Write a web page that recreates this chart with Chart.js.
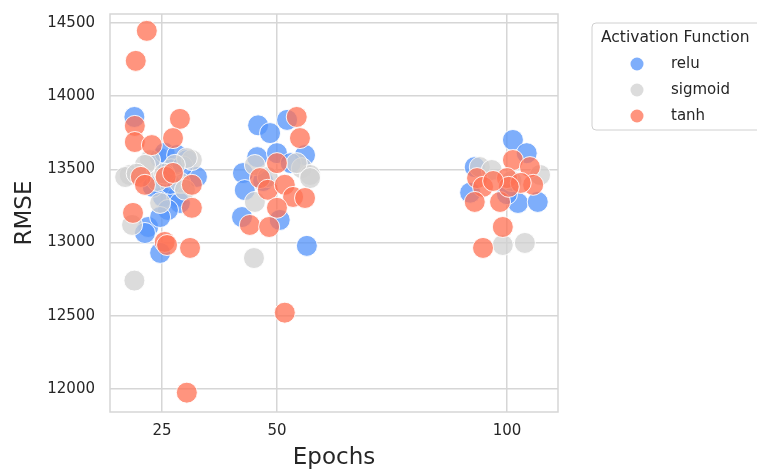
<!DOCTYPE html>
<html><head><meta charset="utf-8">
<script src="https://cdn.jsdelivr.net/npm/chart.js@4/dist/chart.umd.min.js"></script>
<style>html,body{margin:0;padding:0;background:#fff;} #wrap{width:757px;height:470px;}</style>
</head><body><div id="wrap"><canvas id="c" width="757" height="470"></canvas></div>
<script>
const seriesNames = ['relu', 'sigmoid', 'tanh'];
const legendTitle = 'Activation Function';
const xTitle = 'Epochs';
const yTitle = 'RMSE';
const xTicks = [25, 50, 100];
const yTicks = [12000, 12500, 13000, 13500, 14000, 14500];

// jittered epoch positions and RMSE values
const reluEpochs = [19.0,24.6,25.6,28.3,30.4,32.6,25.2,28.3,28.9,26.3,22.0,21.3,24.6,24.6,27.0,29.5,23.0,26.8, 45.9,48.5,52.2,56.1,45.7,50.0,42.6,43.0,42.4,50.6,56.5,53.0,47.0, 101.3,104.3,93.0,102.4,106.7,92.0,100.0];
const reluRMSE   = [13857,13577,13612,13597,13563,13448,13311,13311,13270,13222,13106,13065,12929,13174,13500,13520,13380,13400, 13800,13747,13837,13597,13583,13610,13474,13358,13174,13154,12977,13542,13420, 13700,13610,13515,13270,13277,13340,13330];

const sigmoidEpochs = [18.0,17.0,22.4,31.5,30.4,24.6,18.5,21.3,19.0,29.0,24.0,19.5,27.8,30.0,25.5, 45.2,55.4,57.2,45.2,54.3,48.0,45.0,57.2, 107.2,94.1,99.1,103.9,96.7,101.0];
const sigmoidRMSE   = [13461,13447,13563,13563,13577,13270,13120,13530,12740,13407,13420,13470,13530,13360,13470, 13529,13508,13461,13277,13542,13447,12894,13440, 13461,13515,12983,12997,13495,13420];

const tanhEpochs = [21.7,19.3,19.1,28.9,19.1,22.8,27.4,20.4,21.3,25.8,27.4,31.5,18.7,31.5,25.6,26.1,31.1,30.4, 54.3,55.0,50.0,46.3,48.0,51.7,53.5,56.1,50.0,44.1,48.3,51.7, 101.3,105.0,93.5,100.0,94.8,105.7,103.0,98.5,93.0,100.4,99.1,94.8,97.0];
const tanhRMSE   = [14445,14240,13796,13844,13686,13665,13713,13448,13394,13448,13475,13394,13202,13237,13004,12983,12963,11975, 13857,13713,13542,13440,13360,13394,13311,13304,13237,13120,13106,12521, 13563,13515,13440,13440,13380,13394,13407,13277,13277,13380,13106,12963,13420];

const colors = ['rgba(85,148,250,0.76)', 'rgba(208,208,208,0.75)', 'rgba(255,115,85,0.76)'];
const FONT = "'DejaVu Sans', sans-serif";
const TXT = '#262626';
const GRID = '#d6d6d6';

function pts(xs, ys) { return xs.map((x, i) => ({x: x, y: ys[i]})); }
const allData = [pts(reluEpochs, reluRMSE), pts(sigmoidEpochs, sigmoidRMSE), pts(tanhEpochs, tanhRMSE)];

const datasets = seriesNames.map((n, i) => ({
  label: n,
  data: allData[i],
  backgroundColor: colors[i],
  borderColor: 'rgba(255,255,255,0.9)',
  borderWidth: 1,
  pointRadius: 10.5,
  pointHoverRadius: 10.5,
  order: 2 - i
}));

const frame = {
  id: 'frame',
  beforeDatasetsDraw(chart) {
    const a = chart.chartArea, ctx = chart.ctx;
    ctx.save();
    ctx.strokeStyle = GRID; ctx.lineWidth = 1.5;
    ctx.strokeRect(a.left, a.top, a.right - a.left, a.bottom - a.top);
    ctx.restore();
  },
  afterDraw(chart) {
    const ctx = chart.ctx;
    ctx.save();
    const bx = 592, by = 23, bw = 200, bh = 107, r = 4;
    ctx.beginPath();
    ctx.moveTo(bx + r, by); ctx.lineTo(bx + bw, by); ctx.lineTo(bx + bw, by + bh);
    ctx.lineTo(bx + r, by + bh); ctx.arcTo(bx, by + bh, bx, by + bh - r, r);
    ctx.lineTo(bx, by + r); ctx.arcTo(bx, by, bx + r, by, r); ctx.closePath();
    ctx.fillStyle = 'rgba(255,255,255,0.8)'; ctx.fill();
    ctx.strokeStyle = '#d0d0d0'; ctx.lineWidth = 1; ctx.stroke();
    ctx.fillStyle = TXT; ctx.font = '15.5px ' + FONT; ctx.textBaseline = 'middle'; ctx.textAlign = 'left';
    ctx.fillText(legendTitle, 601, 38);
    ctx.font = '15px ' + FONT;
    const ys = [64, 90, 116];
    chart.data.datasets.forEach((d, i) => {
      ctx.beginPath(); ctx.arc(637, ys[i], 6.5, 0, Math.PI * 2);
      ctx.fillStyle = d.backgroundColor; ctx.fill();
      ctx.fillStyle = TXT; ctx.fillText(d.label, 671, ys[i]);
    });
    ctx.restore();
  }
};

new Chart(document.getElementById('c'), {
  type: 'scatter',
  data: { datasets: datasets },
  options: {
    responsive: false,
    animation: false,
    events: [],
    layout: { padding: { top: 14, right: 199, left: 0, bottom: 0 } },
    plugins: { legend: { display: false }, tooltip: { enabled: false } },
    scales: {
      x: {
        type: 'linear', min: 13.7, max: 111.1,
        afterBuildTicks: s => { s.ticks = xTicks.map(v => ({value: v})); },
        afterFit: s => { s.height = 58; s.paddingLeft = 0; s.paddingRight = 0; },
        grid: { color: GRID, lineWidth: 1.5, drawTicks: false },
        border: { display: false },
        ticks: { color: TXT, font: { family: FONT, size: 15 }, padding: 10, maxRotation: 0, autoSkip: false, callback: v => String(v) },
        title: { display: true, text: xTitle, color: TXT, font: { family: FONT, size: 23, lineHeight: 1 }, padding: { top: 0, bottom: 0 } }
      },
      y: {
        type: 'linear', min: 11843, max: 14560,
        afterBuildTicks: s => { s.ticks = yTicks.map(v => ({value: v})); },
        afterFit: s => { s.width = 110; s.paddingTop = 0; s.paddingBottom = 0; },
        grid: { color: GRID, lineWidth: 1.5, drawTicks: false },
        border: { display: false },
        ticks: { color: TXT, font: { family: FONT, size: 15 }, padding: 15, autoSkip: false, callback: v => String(v) },
        title: { display: true, text: yTitle, color: TXT, font: { family: FONT, size: 23, lineHeight: 1 }, padding: { top: 13.5, bottom: 0 } }
      }
    }
  },
  plugins: [frame]
});
</script></body></html>
